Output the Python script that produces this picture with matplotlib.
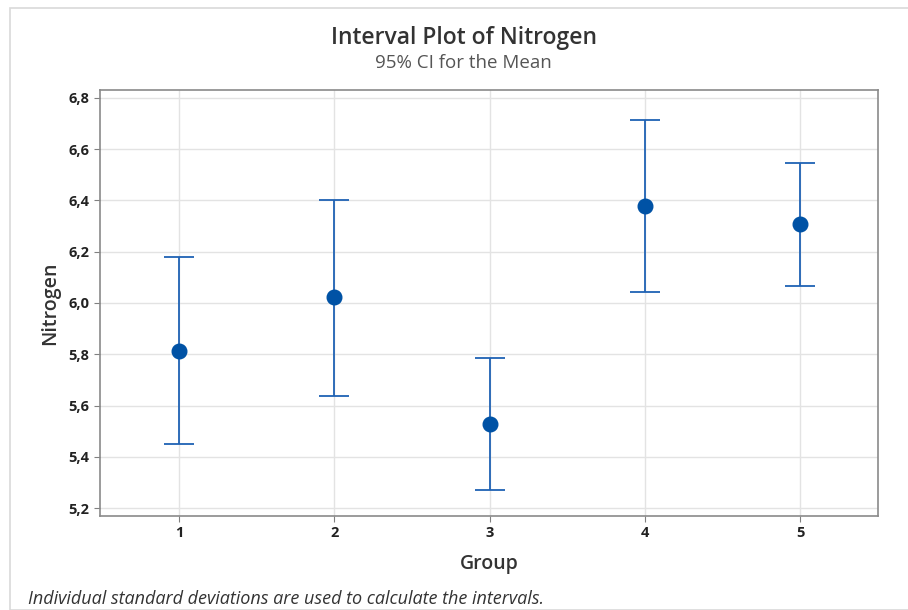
import matplotlib.pyplot as plt
from matplotlib.patches import Rectangle

groups = [1, 2, 3, 4, 5]
means = [5.813, 6.023, 5.528, 6.379, 6.308]
upper = [6.180, 6.402, 5.785, 6.714, 6.546]
lower = [5.450, 5.637, 5.270, 6.043, 6.066]
yticks = [5.2, 5.4, 5.6, 5.8, 6.0, 6.2, 6.4, 6.6, 6.8]

plt.rcParams['font.family'] = ['Open Sans', 'DejaVu Sans']

W, H = 908, 610
fig = plt.figure(figsize=(W / 100, H / 100), dpi=100)

# outer frame of the graph region
fig.patches.append(Rectangle((10 / W, 0), 1.0, 1 - 8 / H, transform=fig.transFigure,
                             fill=False, edgecolor='#d9d9d9', linewidth=1.2))

ax = fig.add_axes([100 / W, 1 - 516 / H, 778 / W, 426 / H])

err_lo = [m - l for m, l in zip(means, lower)]
err_hi = [u - m for m, u in zip(means, upper)]
ax.errorbar(groups, means, yerr=[err_lo, err_hi], fmt='none', ecolor='#1f62b4',
            elinewidth=1.3, capsize=10.5, capthick=1.3, zorder=3)
ax.plot(groups, means, 'o', color='#0052a5', markersize=10.5, zorder=4)

ax.set_xlim(0.49, 5.5)
ax.set_ylim(5.169, 6.831)
ax.set_xticks(groups)
ax.set_yticks(yticks)
ax.set_yticklabels([f'{v:.1f}'.replace('.', ',') for v in yticks])
ax.tick_params(labelsize=10.5, colors='#222222', length=4, color='#808080')
for lab in ax.get_xticklabels() + ax.get_yticklabels():
    lab.set_fontweight('bold')
ax.grid(True, color='#e3e3e3', linewidth=1)
ax.set_axisbelow(True)
for sp in ax.spines.values():
    sp.set_color('#8a8a8a')
    sp.set_linewidth(1.2)

ax.set_xlabel('Group', fontsize=14, fontweight='semibold', color='#333333', labelpad=10)
ax.set_ylabel('Nitrogen', fontsize=14, fontweight='semibold', color='#333333', labelpad=6)

fig.text(464 / W, 1 - 38 / H, 'Interval Plot of Nitrogen', ha='center', va='center',
         fontsize=16.5, fontweight='semibold', color='#333333')
fig.text(463 / W, 1 - 63 / H, '95% CI for the Mean', ha='center', va='center',
         fontsize=13.5, color='#555555')
fig.text(28 / W, 1 - 599 / H, 'Individual standard deviations are used to calculate the intervals.',
         ha='left', va='center', fontsize=13, style='italic', color='#333333')

fig.savefig('out.png', dpi=100)
